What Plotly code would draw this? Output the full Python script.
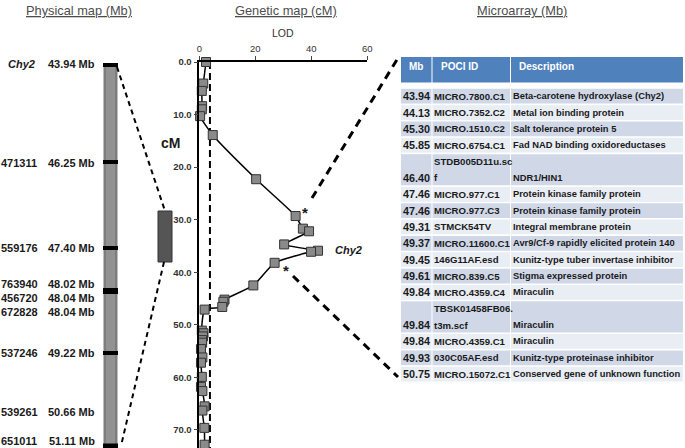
import plotly.graph_objects as go

W, H = 685, 448

# ---------------- data ----------------
# LOD profile along the genetic map
cm_pos = [0.0, 4.1, 5.5, 8.4, 9.0, 10.3, 13.9, 22.3, 29.3, 31.7, 32.2, 34.7, 35.9, 36.1,
          38.2, 42.5, 45.2, 45.6, 46.6, 47.1, 51.1, 51.6, 52.2, 52.9, 53.4, 54.6, 56.2,
          57.2, 59.9, 61.8, 62.6, 65.5, 66.3, 69.6, 72.8]
lod_val = [2.4, 1.4, 0.9, 1.0, 0.9, 0.3, 4.8, 20.3, 34.4, 37.0, 39.2, 30.3, 42.4, 39.9,
           26.9, 19.3, 9.0, 8.6, 8.2, 1.9, 0.9, 1.5, 1.3, 1.0, 1.0, 0.6, 1.1,
           0.6, 0.9, 0.6, 1.1, 1.9, 1.1, 1.8, 1.9]
lod_threshold = 3.8
lod_ticks = [0, 20, 40, 60]
cm_ticks = [0, 10, 20, 30, 40, 50, 60, 70]
cm_ticktext = ["0.0", "10.0", "20.0", "30.0", "40.0", "50.0", "60.0", "70.0"]

# Physical map markers
phys_ids = ["Chy2", "471311", "559176", "763940", "456720", "672828", "537246", "539261", "651011"]
phys_mb = ["43.94 Mb", "46.25 Mb", "47.40 Mb", "48.02 Mb", "48.04 Mb", "48.04 Mb",
           "49.22 Mb", "50.66 Mb", "51.11 Mb"]

# Microarray table
tab_mb = ["43.94", "44.13", "45.30", "45.85", "46.40", "47.46", "47.46", "49.31", "49.37",
          "49.45", "49.61", "49.84", "49.84", "49.84", "49.93", "50.75"]
tab_poci = ["MICRO.7800.C1", "MICRO.7352.C2", "MICRO.1510.C2", "MICRO.6754.C1",
            "STDB005D11u.sc|f", "MICRO.977.C1", "MICRO.977.C3", "STMCK54TV",
            "MICRO.11600.C1", "146G11AF.esd", "MICRO.839.C5", "MICRO.4359.C4",
            "TBSK01458FB06.|t3m.scf", "MICRO.4359.C1", "030C05AF.esd", "MICRO.15072.C1"]
tab_desc = ["Beta-carotene hydroxylase (Chy2)", "Metal ion binding protein",
            "Salt tolerance protein 5", "Fad NAD binding oxidoreductases", "NDR1/HIN1",
            "Protein kinase family protein", "Protein kinase family protein",
            "Integral membrane protein", "Avr9/Cf-9 rapidly elicited protein 140",
            "Kunitz-type tuber invertase inhibitor", "Stigma expressed protein",
            "Miraculin", "Miraculin", "Miraculin", "Kunitz-type proteinase inhibitor",
            "Conserved gene of unknown function"]
tab_header = ["Mb", "POCI ID", "Description"]

# ---------------- layout helpers (pixel -> paper) ----------------
def px(x):
    return x / W

def py(y):
    return 1 - y / H

FONT = "Liberation Sans, Arial"
shapes = []
ann = []

def text(x, y, s, size=10, color="#1a1a1a", xanchor="left", yanchor="middle", bold=True, italic=False):
    t = s
    if italic:
        t = "<i>" + t + "</i>"
    if bold:
        t = "<b>" + t + "</b>"
    ann.append(dict(x=px(x), y=py(y), xref="paper", yref="paper", text=t, showarrow=False,
                    xanchor=xanchor, yanchor=yanchor, borderpad=0,
                    font=dict(family=FONT, size=size, color=color)))

def rect(x0, y0, x1, y1, fill, line_color=None, lw=0, layer="below"):
    shapes.append(dict(type="rect", xref="paper", yref="paper", x0=px(x0), x1=px(x1),
                       y0=py(y1), y1=py(y0), fillcolor=fill, layer=layer,
                       line=dict(color=line_color or fill, width=lw)))

def dline(x0, y0, x1, y1, width=2, dash="6px,4px"):
    shapes.append(dict(type="line", xref="paper", yref="paper", x0=px(x0), y0=py(y0),
                       x1=px(x1), y1=py(y1), line=dict(color="black", width=width, dash=dash),
                       layer="above"))

# ---------------- LOD plot geometry ----------------
AX_X0, AX_X1 = 199.3, 367.3          # LOD 0 .. 60
AX_Y0, AX_YB = 62.0, 448.0           # cM 0 at top, bottom of axis
PX_PER_CM = 5.257
CM_MAX = (AX_YB - AX_Y0) / PX_PER_CM

def lod_px(v):
    return AX_X0 + v * (AX_X1 - AX_X0) / 60.0

def cm_px(c):
    return AX_Y0 + c * PX_PER_CM

fig = go.Figure()

fig.add_trace(go.Scatter(x=[lod_threshold, lod_threshold], y=[0, CM_MAX], mode="lines",
                         line=dict(color="black", width=2, dash="7px,4px"),
                         hoverinfo="skip", showlegend=False, cliponaxis=False))
fig.add_trace(go.Scatter(x=lod_val, y=cm_pos, mode="lines+markers",
                         line=dict(color="black", width=1.5, shape="spline", smoothing=0.5),
                         marker=dict(symbol="square", size=9, color="#8a8a8a",
                                     line=dict(color="#333333", width=1)),
                         showlegend=False, cliponaxis=False))

# ---------------- titles ----------------
text(79, 10, "<u>Physical map (Mb)</u>", size=12.8, color="#4d4d4d", xanchor="center", bold=False)
text(286, 10, "<u>Genetic map (cM)</u>", size=12.8, color="#4d4d4d", xanchor="center", bold=False)
text(522, 10, "<u>Microarray (Mb)</u>", size=12.8, color="#4d4d4d", xanchor="center", bold=False)
text(283, 33, "LOD", size=10.5, color="#333333", xanchor="center", bold=False)
text(170, 143, "cM", size=14, color="#1a1a1a", xanchor="center")

# Chy2 label and asterisks on LOD plot
text(334, 250, "Chy2", size=11, italic=True)
text(lod_px(34.4) + 9, cm_px(29.3) - 4, "*", size=15, xanchor="center")
text(lod_px(26.9) + 11, cm_px(38.2) + 8, "*", size=15, xanchor="center")

# ---------------- physical map ----------------
label_y = [64, 163, 248, 284, 298, 312, 353, 412, 441]
band_y = [65, 162, 248, 291, 353, 446]
band_h = [4, 4, 4, 6, 4, 5]
rect(103.5, 64, 117.5, 448, "#7d7d7d")
rect(106, 64, 115, 448, "#929292")
for yb, hb in zip(band_y, band_h):
    rect(103, yb - hb / 2, 118, yb + hb / 2, "#000000")
for i, (pid, mb) in enumerate(zip(phys_ids, phys_mb)):
    text(0 if pid != "Chy2" else 7, label_y[i], pid, size=11, italic=(pid == "Chy2"))
    text(96, label_y[i], mb, size=11, xanchor="right")

# region box on genetic axis
rect(158, 211, 172, 262, "#555555", "#333333", 1)

dline(117, 67, 165, 211, width=2, dash="5px,4px")
dline(164, 262, 121, 446, width=2, dash="5px,4px")

# connectors from LOD plot to table
dline(312, 198, 398, 58, width=3, dash="8px,6px")
dline(293, 276, 398, 377, width=3, dash="8px,6px")

# ---------------- table ----------------
col_x = [(401, 431.5), (432.5, 510), (511, 683)]
for (cx0, cx1) in col_x:
    rect(cx0, 57, cx1, 82.5, "#4f81bd")
hdr_x = [408, 440, 518]
for hx, h in zip(hdr_x, tab_header):
    text(hx, 66, h, size=10, color="white")

ROW0, UNIT = 88.0, 16.35
y = ROW0
for i in range(len(tab_mb)):
    parts = tab_poci[i].split("|")
    n = len(parts)
    y0, y1 = y, y + n * UNIT
    fill = "#d0d8e8" if i % 2 == 0 else "#e9edf4"
    for (cx0, cx1) in col_x:
        rect(cx0, y0 + 0.8, cx1, y1 - 0.8, fill)
    last_c = y1 - UNIT / 2
    text(402, last_c, tab_mb[i], size=10.8)
    for k, p in enumerate(parts):
        text(433, y0 + UNIT * (k + 0.5), p, size=9.6)
    text(511.5, last_c, tab_desc[i], size=9.35)
    y = y1

fig.update_layout(
    width=W, height=H, margin=dict(l=0, r=0, t=0, b=0),
    paper_bgcolor="white", plot_bgcolor="white",
    shapes=shapes, annotations=ann,
    xaxis=dict(domain=[px(AX_X0), px(AX_X1)], range=[0, 60], side="top",
               tickvals=lod_ticks, ticks="outside", ticklen=4, tickwidth=1.2,
               showline=True, linecolor="black", linewidth=1.5, showgrid=False,
               zeroline=False, tickprefix="<b>", ticksuffix="</b>", automargin=False,
               tickfont=dict(family=FONT, size=9.5, color="#333333")),
    yaxis=dict(domain=[0, py(AX_Y0)], range=[CM_MAX, 0], tickvals=cm_ticks,
               ticktext=["<b>" + t + "</b>" for t in cm_ticktext], ticks="outside",
               ticklen=4, tickwidth=1.2, automargin=False,
               showline=True, linecolor="black", linewidth=1.5, showgrid=False,
               zeroline=False, tickfont=dict(family=FONT, size=9.5, color="#333333")),
)

fig.write_html(
    "out.html",
    config={"displayModeBar": False},
    post_script=("document.documentElement.style.margin='0';"
                 "document.body.style.margin='0';document.body.style.padding='0';"
                 "document.body.style.overflow='hidden';"
                 "var d=document.getElementById('{plot_id}');"
                 "d.style.position='fixed';d.style.top='0px';d.style.left='0px';"),
)
